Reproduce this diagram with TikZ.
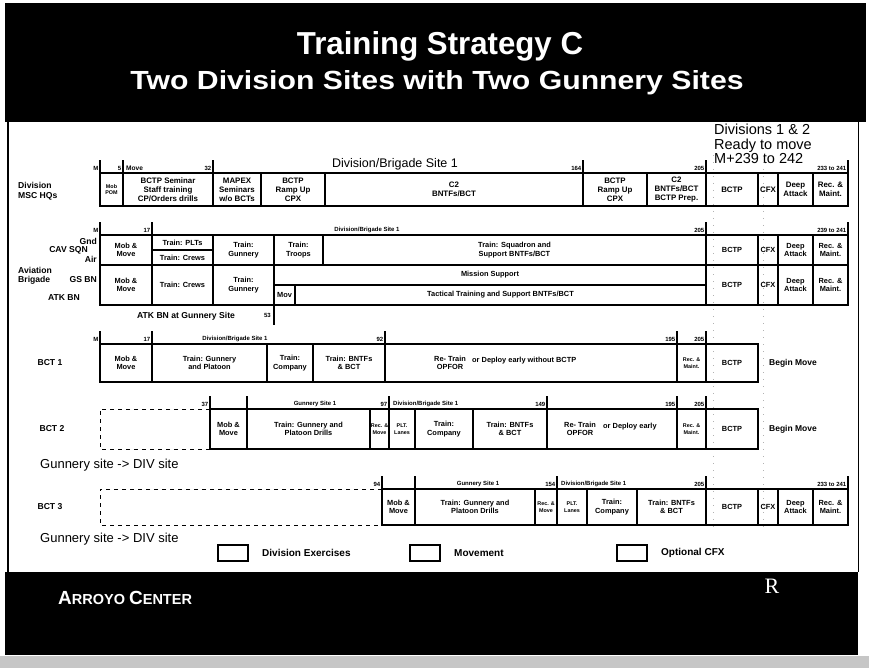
\documentclass[tikz,border=0pt]{standalone}
\usepackage{fontspec}
\setmainfont{Liberation Sans}
\newfontfamily\rfont{Liberation Serif}
% tick with its day label, left of the tick
\newcommand{\htick}[4]{\draw[tk] (#1,#2) -- (#1,#2-13);
	\node[tiny,anchor=south east] (#4) at (#1-1.5,#2-2.5) {#3};}
\begin{document}
\begin{tikzpicture}[x=1pt,y=-1pt,line join=miter,
	every node/.style={inner sep=0pt},
	gbox/.style={draw,line width=1.5pt},
	gtxt/.style={font=\fontsize{7.4}{8.6}\selectfont\bfseries,align=center},
	gbig/.style={font=\fontsize{7.9}{9}\selectfont\bfseries,align=center},
	gsm/.style={font=\fontsize{5.4}{6.4}\selectfont\bfseries,align=center},
	tiny/.style={font=\fontsize{6}{6.5}\selectfont\bfseries},
	lab/.style={font=\fontsize{8.6}{10}\selectfont\bfseries,align=left},
	tk/.style={line width=1.5pt},
	dashbox/.style={line width=1pt,dash pattern=on 4pt off 4pt},
	trace/.style={gray!60,line width=0.8pt,dash pattern=on 1pt off 6pt}]
\useasboundingbox (0,0) rectangle (869,668);

% title band
\fill (5,3) rectangle (866,122);
\node[text=white] (title) at (440,46) {\resizebox{286pt}{23pt}{\bfseries Training Strategy C}};
\node[text=white] (subtitle) at (437,83) {\resizebox{613pt}{19pt}{\bfseries Two Division Sites with Two Gunnery Sites}};
\draw[line width=1.5pt] (8,122) -- (8,572);
\draw[line width=1pt] (858,122) -- (858,572);
\node[anchor=north west,align=left,font=\fontsize{14.5}{14.5}\selectfont] (ready) at (714,124) {Divisions 1 \& 2\\Ready to move\\M+239 to 242};

% faint traces
\foreach \x in {713,763}
	\draw[trace] (\x,155) -- (\x,530);

% row 1: Division MSC HQs
\def\ya{173}\def\yb{206}
\foreach \xa/\xb/\txt in {123/213/{BCTP Seminar\\Staff training\\CP/Orders drills},213/261/{MAPEX\\Seminars\\w/o BCTs},261/325/{BCTP\\Ramp Up\\CPX},325/583/{C2\\BNTFs/BCT},583/647/{BCTP\\Ramp Up\\CPX},647/706/{C2\\BNTFs/BCT\\BCTP Prep.},706/758/BCTP,758/778/CFX,778/813/{Deep\\Attack},813/848/{Rec. \&\\Maint.}}{
	\draw[gbox] (\xa,\ya) rectangle (\xb,\yb);
	\node[gbig] (a\xa) at ({(\xa+\xb)/2},{(\ya+\yb)/2}) {\txt};
}
\draw[gbox] (100,\ya) rectangle (123,\yb);
\node[gsm] (a100) at (111.5,189.5) {Mob\\POM};
\htick{100}{173}{M}{t1m}
\htick{123}{173}{5}{t1a}
\node[anchor=south west,font=\fontsize{6.6}{7}\selectfont\bfseries] (move) at (126,170.5) {Move};
\htick{213}{173}{32}{t1b}
\node[font=\fontsize{12.5}{14}\selectfont] (site1) at (395,164) {Division/Brigade Site 1};
\htick{583}{173}{164}{t1c}
\htick{706}{173}{205}{t1d}
\htick{848}{173}{233 to 241}{t1e}
\node[lab,anchor=west] (divhq) at (18,191) {Division\\MSC HQs};

% row 2: CAV SQN and Aviation Brigade
\def\ya{235}\def\ym{265}\def\yb{305}
\foreach \xa/\xb/\txt in {100/152/{Mob \&\\Move},213/274/{Train:\\Gunnery},274/323/{Train:\\Troops},323/706/{Train: Squadron and\\Support BNTFs/BCT},706/758/BCTP,758/778/CFX,778/813/{Deep\\Attack},813/848/{Rec. \&\\Maint.}}{
	\draw[gbox] (\xa,\ya) rectangle (\xb,\ym);
	\node[gtxt] (b\xa) at ({(\xa+\xb)/2},{(\ya+\ym)/2}) {\txt};
}
\draw[gbox] (152,235) rectangle (213,250);
\node[gtxt] (bplt) at (182.5,242.5) {Train: PLTs};
\draw[gbox] (152,250) rectangle (213,265);
\node[gtxt] (bcrew) at (182.5,257.5) {Train: Crews};
\foreach \xa/\xb/\txt in {100/152/{Mob \&\\Move},152/213/{Train: Crews},213/274/{Train:\\Gunnery},706/758/BCTP,758/778/CFX,778/813/{Deep\\Attack},813/848/{Rec. \&\\Maint.}}{
	\draw[gbox] (\xa,\ym) rectangle (\xb,\yb);
	\node[gtxt] (c\xa) at ({(\xa+\xb)/2},{(\ym+\yb)/2}) {\txt};
}
\draw[gbox] (274,265) rectangle (706,285);
\node[gtxt] (mission) at (490,275) {Mission Support};
\draw[gbox] (274,285) rectangle (295,305);
\node[gtxt] (mov) at (284.5,295) {Mov};
\draw[gbox] (295,285) rectangle (706,305);
\node[gtxt] (tact) at (500.5,295) {Tactical Training and Support BNTFs/BCT};
\htick{100}{235}{M}{t2m}
\htick{152}{235}{17}{t2a}
\node[tiny,anchor=south] (site2) at (367,232.5) {Division/Brigade Site 1};
\htick{706}{235}{205}{t2b}
\htick{848}{235}{239 to 241}{t2c}
\node[lab,anchor=east] (gnd) at (97,241) {Gnd};
\node[lab,anchor=east] (cav) at (88,250) {CAV SQN};
\node[lab,anchor=east] (air) at (97,259) {Air};
\node[lab,anchor=west] (avn) at (18,270) {Aviation};
\node[lab,anchor=west] (brig) at (18,280) {Brigade};
\node[lab,anchor=east] (gsbn) at (97,280) {GS BN};
\node[lab] (atkbn) at (64,298) {ATK BN};
\node[lab] (atkgs) at (186,316) {ATK BN at Gunnery Site};
\node[tiny,anchor=east] (t53) at (271,315) {53};
\draw[tk] (274,305) -- (274,325);

% row 3: BCT 1
\def\ya{344}\def\yb{382}
\foreach \xa/\xb/\txt in {100/152/{Mob \&\\Move},152/267/{Train: Gunnery\\and Platoon},267/313/{Train:\\Company},313/385/{Train: BNTFs\\\& BCT},385/677/{},706/758/BCTP}{
	\draw[gbox] (\xa,\ya) rectangle (\xb,\yb);
	\node[gtxt] (d\xa) at ({(\xa+\xb)/2},{(\ya+\yb)/2}) {\txt};
}
\draw[gbox] (677,\ya) rectangle (706,\yb);
\node[gsm] (d677) at (691.5,363) {Rec. \&\\Maint.};
\node[gtxt] (dre) at (450,363) {Re- Train\\OPFOR};
\node[gtxt,anchor=west] (dor) at (472,361) {or Deploy early without BCTP};
\htick{100}{344}{M}{t3m}
\htick{152}{344}{17}{t3a}
\node[tiny,anchor=south] (site3) at (235,341.5) {Division/Brigade Site 1};
\htick{385}{344}{92}{t3b}
\htick{677}{344}{195}{t3c}
\htick{706}{344}{205}{t3d}
\node[lab] (bct1) at (50,363) {BCT 1};
\node[font=\fontsize{8.5}{10}\selectfont\bfseries] (bm1) at (793,363) {Begin Move};

% row 4: BCT 2
\def\ya{409}\def\yb{449}
\draw[dashbox] (210,\ya) -- (100,\ya) -- (100,\yb) -- (210,\yb);
\foreach \xa/\xb/\txt in {210/247/{Mob \&\\Move},247/370/{Train: Gunnery and\\Platoon Drills},415/473/{Train:\\Company},473/547/{Train: BNTFs\\\& BCT},547/677/{},706/758/BCTP}{
	\draw[gbox] (\xa,\ya) rectangle (\xb,\yb);
	\node[gtxt] (e\xa) at ({(\xa+\xb)/2},{(\ya+\yb)/2}) {\txt};
}
\foreach \xa/\xb/\txt in {370/389/{Rec. \&\\Move},389/415/{PLT.\\Lanes},677/706/{Rec. \&\\Maint.}}{
	\draw[gbox] (\xa,\ya) rectangle (\xb,\yb);
	\node[gsm] (e\xa) at ({(\xa+\xb)/2},{(\ya+\yb)/2}) {\txt};
}
\node[gtxt] (ere) at (580,429) {Re- Train\\OPFOR};
\node[gtxt,anchor=west] (eor) at (603,427) {or Deploy early};
\htick{210}{409}{37}{t4a}
\htick{247}{409}{}{t4b}
\node[tiny,anchor=south] (gun4) at (315,406.5) {Gunnery Site 1};
\htick{389}{409}{97}{t4c}
\node[tiny,anchor=south west] (site4) at (393,406.5) {Division/Brigade Site 1};
\htick{547}{409}{149}{t4d}
\htick{677}{409}{195}{t4e}
\htick{706}{409}{205}{t4f}
\node[lab] (bct2) at (52,429) {BCT 2};
\node[font=\fontsize{8.5}{10}\selectfont\bfseries] (bm2) at (793,429) {Begin Move};
\node[anchor=west,font=\fontsize{13}{15}\selectfont] (gd1) at (40,465) {Gunnery site -> DIV site};

% row 5: BCT 3
\def\ya{489}\def\yb{525}
\draw[dashbox] (382,\ya) -- (100,\ya) -- (100,\yb) -- (382,\yb);
\foreach \xa/\xb/\txt in {382/415/{Mob \&\\Move},415/535/{Train: Gunnery and\\Platoon Drills},587/637/{Train:\\Company},637/706/{Train: BNTFs\\\& BCT},706/758/BCTP,758/778/CFX,778/813/{Deep\\Attack},813/848/{Rec. \&\\Maint.}}{
	\draw[gbox] (\xa,\ya) rectangle (\xb,\yb);
	\node[gtxt] (f\xa) at ({(\xa+\xb)/2},{(\ya+\yb)/2}) {\txt};
}
\foreach \xa/\xb/\txt in {535/557/{Rec. \&\\Move},557/587/{PLT.\\Lanes}}{
	\draw[gbox] (\xa,\ya) rectangle (\xb,\yb);
	\node[gsm] (f\xa) at ({(\xa+\xb)/2},{(\ya+\yb)/2}) {\txt};
}
\htick{382}{489}{94}{t5a}
\htick{415}{489}{}{t5b}
\node[tiny,anchor=south] (gun5) at (478,486.5) {Gunnery Site 1};
\htick{557}{489}{154}{t5c}
\node[tiny,anchor=south west] (site5) at (561,486.5) {Division/Brigade Site 1};
\htick{706}{489}{205}{t5d}
\htick{848}{489}{233 to 241}{t5e}
\node[lab] (bct3) at (50,507) {BCT 3};
\node[anchor=west,font=\fontsize{13}{15}\selectfont] (gd2) at (40,539) {Gunnery site -> DIV site};

% legend
\foreach \lx/\ltxt in {218/Division Exercises,410/Movement,617/Optional CFX}{
	\draw[line width=1.5pt] (\lx,545) rectangle (\lx+30,561);
	\node[anchor=west,font=\fontsize{10}{11}\selectfont\bfseries] (l\lx) at (\lx+44,553) {\ltxt};
}

% footer band
\fill (5,572) rectangle (858,655);
\node[text=white,anchor=west] (arroyo) at (58,598) {\bfseries\fontsize{19}{19}\selectfont A\fontsize{14.5}{15}\selectfont RROYO \fontsize{19}{19}\selectfont C\fontsize{14.5}{15}\selectfont ENTER};
\node[text=white,font=\rfont\fontsize{22}{22}\selectfont] (rlogo) at (772,586) {R};
\fill[gray!45] (0,656) rectangle (869,668);
\end{tikzpicture}
\end{document}
